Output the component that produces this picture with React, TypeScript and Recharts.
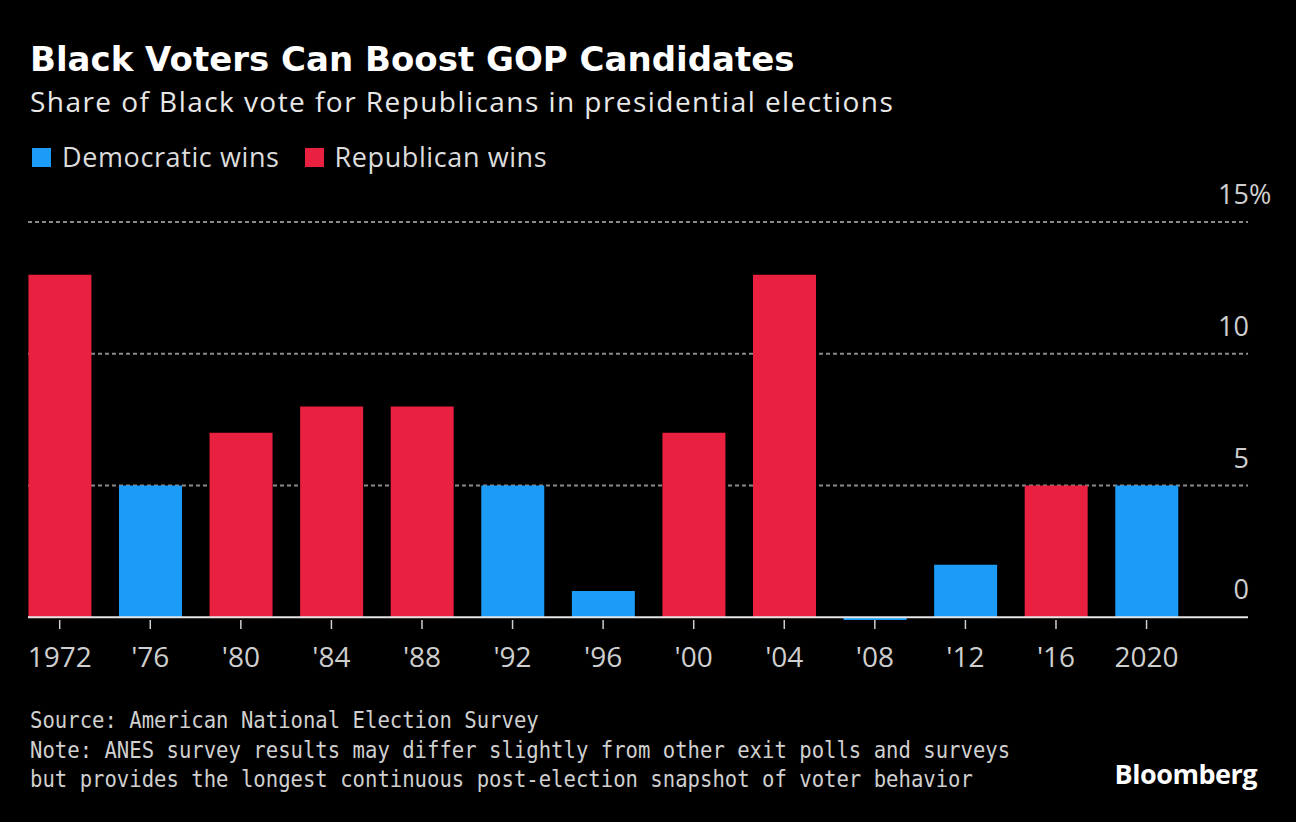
import React from "react";
import { BarChart, Bar, XAxis, YAxis, CartesianGrid, ReferenceLine, Cell } from "recharts";

const years = ["1972", "'76", "'80", "'84", "'88", "'92", "'96", "'00", "'04", "'08", "'12", "'16", "2020"];
const gopShare = [13, 5, 7, 8, 8, 5, 1, 7, 13, -0.1, 2, 5, 5];
const winner = ["R", "D", "R", "R", "R", "D", "D", "R", "R", "D", "D", "R", "D"];
const yTicks = [0, 5, 10, 15];
const gridValues = [5, 10, 15];

const RED = "#e9203f";
const BLUE = "#1c9cf7";
const LABEL = "#cfcfcf";
const SANS = "'Open Sans', 'Noto Sans', sans-serif";

const data = years.map((year, i) => ({ idx: i, year, share: gopShare[i], party: winner[i] }));

// number right-aligned at the plot edge, the % hangs past it on the top tick
function YTick(props: any) {
  const { x, y, payload } = props;
  return (
    <g>
      <text x={x + 1} y={y - 18} textAnchor="end" fill={LABEL} fontSize={27} fontFamily={SANS}>
        {payload.value}
      </text>
      {payload.value === 15 && (
        <text x={x + 1} y={y - 18} textAnchor="start" fill={LABEL} fontSize={27} fontFamily={SANS}>
          %
        </text>
      )}
    </g>
  );
}

export default function App() {
  return (
    <div
      style={{
        position: "absolute",
        top: 0,
        left: 0,
        width: 1296,
        height: 822,
        background: "#000",
        overflow: "hidden",
        fontFamily: SANS,
      }}
    >
      <div
        style={{
          position: "absolute",
          left: 30,
          top: 38,
          fontFamily: "'DejaVu Sans', sans-serif",
          fontWeight: 700,
          fontSize: 34,
          lineHeight: "42px",
          color: "#fff",
          whiteSpace: "nowrap",
        }}
      >
        Black Voters Can Boost GOP Candidates
      </div>
      <div
        style={{
          position: "absolute",
          left: 30,
          top: 82,
          fontSize: 28,
          lineHeight: "38px",
          color: "#e8e8e8",
          whiteSpace: "nowrap",
          letterSpacing: 1.45,
        }}
      >
        Share of Black vote for Republicans in presidential elections
      </div>

      <div
        style={{
          position: "absolute",
          left: 32,
          top: 138,
          display: "flex",
          alignItems: "center",
          fontSize: 27,
          lineHeight: "38px",
          color: "#dcdcdc",
          letterSpacing: 0.6,
        }}
      >
        <span style={{ width: 19, height: 19, background: BLUE, display: "inline-block", marginRight: 11 }} />
        <span style={{ marginRight: 25 }}>Democratic wins</span>
        <span style={{ width: 19, height: 19, background: RED, display: "inline-block", marginRight: 11 }} />
        <span>Republican wins</span>
      </div>

      <div style={{ position: "absolute", left: 0, top: 0 }}>
        <BarChart width={1296} height={822} data={data} margin={{ top: 222, right: 0, bottom: 162, left: 28 }}>
          <CartesianGrid
            horizontal
            vertical={false}
            horizontalValues={gridValues}
            stroke="#8a8a8a"
            strokeDasharray="4 3"
            strokeWidth={2}
          />
          <XAxis
            dataKey="idx"
            type="number"
            domain={[-0.35, 13.12]}
            ticks={years.map((_, i) => i)}
            tickFormatter={(v: number) => years[v]}
            axisLine={false}
            tickLine={{ stroke: LABEL, strokeWidth: 1.5 }}
            tickSize={9}
            tickMargin={18}
            height={40}
            tick={{ fill: LABEL, fontSize: 28, fontFamily: SANS }}
            interval={0}
            allowDecimals={false}
          />
          <YAxis
            orientation="right"
            width={48}
            domain={[-0.1, 15]}
            ticks={yTicks}
            axisLine={false}
            tickLine={false}
            tickSize={0}
            tickMargin={0}
            tick={YTick}
          />
          <Bar dataKey="share" barSize={63} isAnimationActive={false}>
            {data.map((d) => (
              <Cell key={d.year} fill={d.party === "R" ? RED : BLUE} />
            ))}
          </Bar>
          <ReferenceLine y={0} stroke="#e6e6e6" strokeWidth={2} />
        </BarChart>
      </div>

      <div
        style={{
          position: "absolute",
          left: 30,
          top: 706,
          fontFamily: "'DejaVu Sans Mono', monospace",
          fontSize: 23,
          lineHeight: "29.5px",
          color: "#d0d0d0",
          whiteSpace: "nowrap",
          transform: "scaleX(0.896)",
          transformOrigin: "left top",
        }}
      >
        <div>Source: American National Election Survey</div>
        <div>Note: ANES survey results may differ slightly from other exit polls and surveys</div>
        <div>but provides the longest continuous post-election snapshot of voter behavior</div>
      </div>

      <div
        style={{
          position: "absolute",
          right: 39,
          top: 756,
          fontFamily: "'Open Sans', sans-serif",
          fontWeight: 700,
          fontSize: 27,
          lineHeight: "36px",
          color: "#fff",
          letterSpacing: -0.5,
        }}
      >
        Bloomberg
      </div>
    </div>
  );
}
